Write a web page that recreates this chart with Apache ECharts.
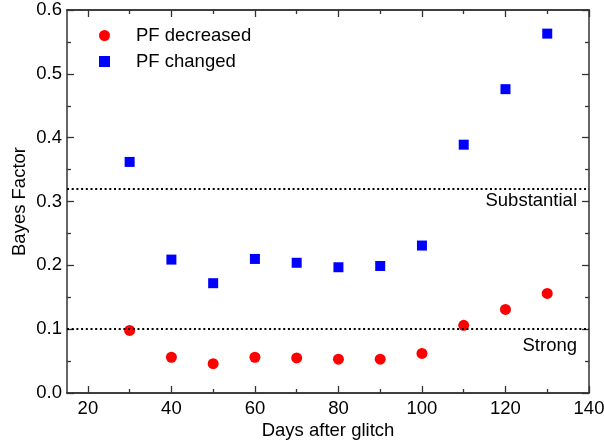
<!DOCTYPE html>
<html><head><meta charset="utf-8">
<script src="https://cdn.jsdelivr.net/npm/echarts@6/dist/echarts.min.js"></script>
<style>html,body{margin:0;padding:0;background:#fff}#c{width:604px;height:443px}</style>
</head><body><div id="c"></div>
<script>
const days = [30, 40, 50, 60, 70, 80, 90, 100, 110, 120, 130];
const pfDecreased = [0.098, 0.056, 0.046, 0.056, 0.055, 0.053, 0.053, 0.062, 0.106, 0.131, 0.156];
const pfChanged = [0.362, 0.209, 0.172, 0.210, 0.204, 0.197, 0.199, 0.231, 0.389, 0.476, 0.563];
const thresholds = [{name: 'Substantial', value: 0.316}, {name: 'Strong', value: 0.1}];
const seriesNames = ['PF decreased', 'PF changed'];
const xMajorTicks = [20, 40, 60, 80, 100, 120, 140];
const xMinorTicks = [30, 50, 70, 90, 110, 130];

const font = 'Liberation Sans, Arial, Helvetica, sans-serif';
const fs = 18.5;
const axisCol = '#333';
const chart = echarts.init(document.getElementById('c'), null, {renderer: 'canvas'});
const lineCommon = {show: true, onZero: false, lineStyle: {color: axisCol, width: 1.5}};
const labelFont = {fontFamily: font, fontSize: fs, color: '#000'};

function xAx(pos, vals, len, withLabels) {
  return {
    type: 'value', min: 15, max: 140, position: pos,
    name: withLabels ? 'Days after glitch' : '', nameLocation: 'middle', nameGap: 28,
    nameMoveOverlap: false,
    nameTextStyle: labelFont,
    axisLine: lineCommon,
    axisTick: {inside: true, length: len, customValues: vals, lineStyle: {color: axisCol, width: 1.3}},
    axisLabel: withLabels ? Object.assign({margin: 6, customValues: xMajorTicks}, labelFont) : {show: false},
    splitLine: {show: false}
  };
}
function yAx(pos, withLabels) {
  return {
    type: 'value', min: 0, max: 0.6, interval: 0.1, position: pos,
    name: withLabels ? 'Bayes Factor' : '', nameLocation: 'middle', nameGap: 38,
    nameMoveOverlap: false,
    nameTextStyle: labelFont,
    axisLine: lineCommon,
    axisTick: {inside: true, length: 7, lineStyle: {color: axisCol, width: 1.3}},
    minorTick: {show: true, splitNumber: 2, length: 4, lineStyle: {color: axisCol, width: 1.3}},
    axisLabel: withLabels ? Object.assign({margin: 5, formatter: v => v.toFixed(1)}, labelFont) : {show: false},
    splitLine: {show: false}
  };
}

chart.setOption({
  animation: false,
  backgroundColor: '#fff',
  grid: {left: 67, right: 15, top: 10, bottom: 50, outerBoundsMode: 'none', containLabel: false},
  legend: {
    orient: 'vertical', left: 94, top: 21,
    itemWidth: 11, itemHeight: 11, itemGap: 7,
    textStyle: {fontFamily: font, fontSize: fs, color: '#000', padding: [0, 0, 0, 21], lineHeight: 19},
    data: [{name: seriesNames[0], icon: 'circle'}, {name: seriesNames[1], icon: 'rect'}]
  },
  xAxis: [
    xAx('bottom', xMajorTicks, 7, true),
    xAx('bottom', xMinorTicks, 4, false),
    xAx('top', xMajorTicks, 7, false),
    xAx('top', xMinorTicks, 4, false)
  ],
  yAxis: [yAx('left', true), yAx('right', false)],
  series: [{
    name: seriesNames[0], type: 'scatter', symbol: 'circle', symbolSize: 11,
    itemStyle: {color: '#ff0000', opacity: 1},
    data: days.map((d, i) => [d, pfDecreased[i]]),
    markLine: {
      silent: true, symbol: 'none',
      lineStyle: {color: '#000', type: [2, 2.7], width: 2},
      data: thresholds.map((t, i) => ({
        yAxis: t.value,
        label: {show: true, formatter: t.name, position: 'insideEndBottom', distance: i === 0 ? [12, 3] : [12, 7],
          fontFamily: font, fontSize: fs, color: '#000'}
      }))
    }
  }, {
    name: seriesNames[1], type: 'scatter', symbol: 'rect', symbolSize: 10,
    itemStyle: {color: '#0000ff', opacity: 1},
    data: days.map((d, i) => [d, pfChanged[i]])
  }]
});
</script></body></html>
